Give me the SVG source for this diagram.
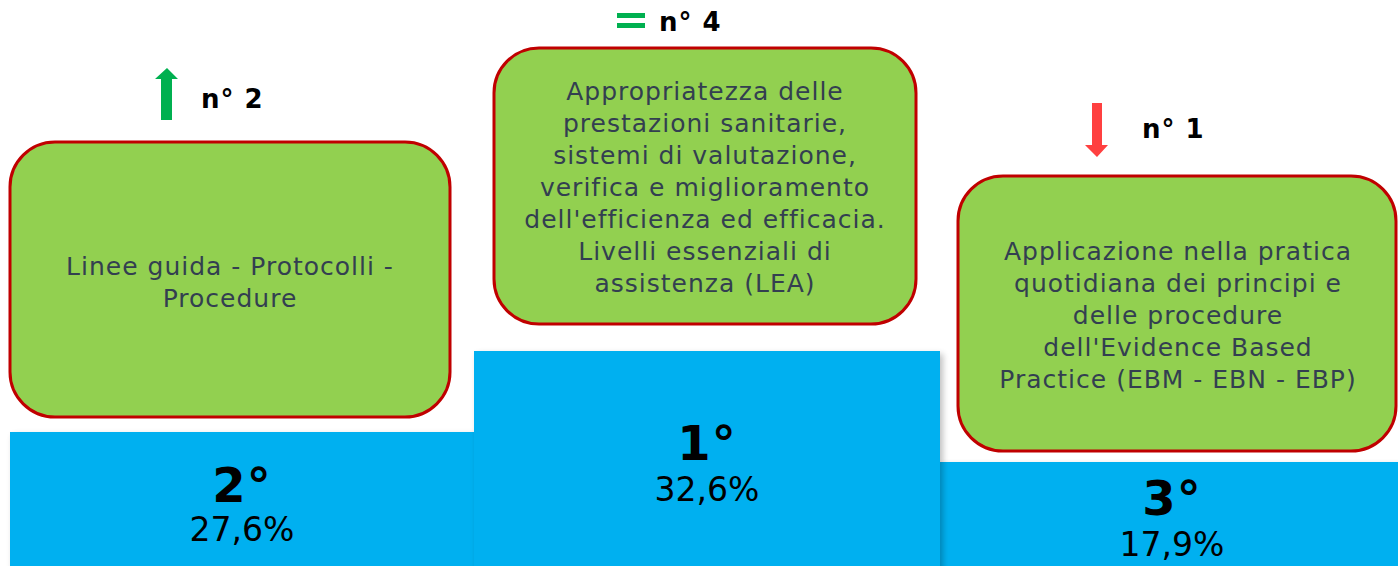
<svg xmlns="http://www.w3.org/2000/svg" width="1398" height="566" viewBox="0 0 1398 566">
<defs>
<filter id="sh" x="-5%" y="-5%" width="115%" height="115%">
<feGaussianBlur in="SourceAlpha" stdDeviation="3"/>
<feOffset dx="3" dy="3" result="b"/>
<feComponentTransfer><feFuncA type="linear" slope="0.25"/></feComponentTransfer>
<feMerge><feMergeNode/><feMergeNode in="SourceGraphic"/></feMerge>
</filter>
</defs>
<style>
.box{fill:#92D050;stroke:#C00000;stroke-width:3}
.bar{fill:#00B0F0}
.bt{font-family:"DejaVu Sans",Verdana,sans-serif;font-size:25px;letter-spacing:1px;fill:#333F50;text-anchor:middle}
.rk{font-family:"DejaVu Sans",Verdana,sans-serif;font-size:48px;letter-spacing:1px;font-weight:bold;fill:#000;text-anchor:middle}
.pc{font-family:"DejaVu Sans",Verdana,sans-serif;font-size:33px;fill:#000;text-anchor:middle}
.nn{font-family:"DejaVu Sans",Verdana,sans-serif;font-size:26px;letter-spacing:1px;font-weight:bold;fill:#000}
</style>
<rect width="1398" height="566" fill="#fff"/>
<g id="bars">
<rect id="bar2" class="bar" x="10" y="432" width="466" height="140" filter="url(#sh)"/>
<rect id="bar3" class="bar" x="938" y="462" width="470" height="110" filter="url(#sh)"/>
<rect id="bar1" class="bar" x="474" y="351" width="466" height="220" filter="url(#sh)"/>
</g>
<g id="rank2">
<text class="rk" x="242" y="502">2°</text>
<text class="pc" x="242" y="541">27,6%</text>
</g>
<g id="rank1">
<text class="rk" x="707" y="460">1°</text>
<text class="pc" x="707" y="501">32,6%</text>
</g>
<g id="rank3">
<text class="rk" x="1172" y="515">3°</text>
<text class="pc" x="1172" y="556">17,9%</text>
</g>
<g id="node-left">
<rect class="box" x="10" y="142" width="440" height="275" rx="45" ry="45"/>
<text class="bt" x="230" y="275">Linee guida - Protocolli -</text>
<text class="bt" x="230" y="307">Procedure</text>
</g>
<g id="node-middle">
<rect class="box" x="494" y="48" width="422" height="276" rx="45" ry="45"/>
<text class="bt" x="705" y="100">Appropriatezza delle</text>
<text class="bt" x="705" y="132">prestazioni sanitarie,</text>
<text class="bt" x="705" y="164">sistemi di valutazione,</text>
<text class="bt" x="705" y="196">verifica e miglioramento</text>
<text class="bt" x="705" y="228">dell'efficienza ed efficacia.</text>
<text class="bt" x="705" y="260">Livelli essenziali di</text>
<text class="bt" x="705" y="292">assistenza (LEA)</text>
</g>
<g id="node-right">
<rect class="box" x="958" y="176" width="438" height="275" rx="45" ry="45"/>
<text class="bt" x="1178" y="260">Applicazione nella pratica</text>
<text class="bt" x="1178" y="292">quotidiana dei principi e</text>
<text class="bt" x="1178" y="324">delle procedure</text>
<text class="bt" x="1178" y="356">dell'Evidence Based</text>
<text class="bt" x="1178" y="388">Practice (EBM - EBN - EBP)</text>
</g>
<g id="indicators">
<polygon points="167,68 178,79 172,79 172,120 161,120 161,79 155,79" fill="#00B050"/>
<text class="nn" x="201" y="108">n° 2</text>
<rect x="617" y="13" width="28" height="5" fill="#00B050"/>
<rect x="617" y="23" width="28" height="5" fill="#00B050"/>
<text class="nn" x="659" y="31">n° 4</text>
<polygon points="1092,103 1102,103 1102,145 1108,145 1097,157 1085,145 1092,145" fill="#FF4040"/>
<text class="nn" x="1142" y="138">n° 1</text>
</g>
</svg>
